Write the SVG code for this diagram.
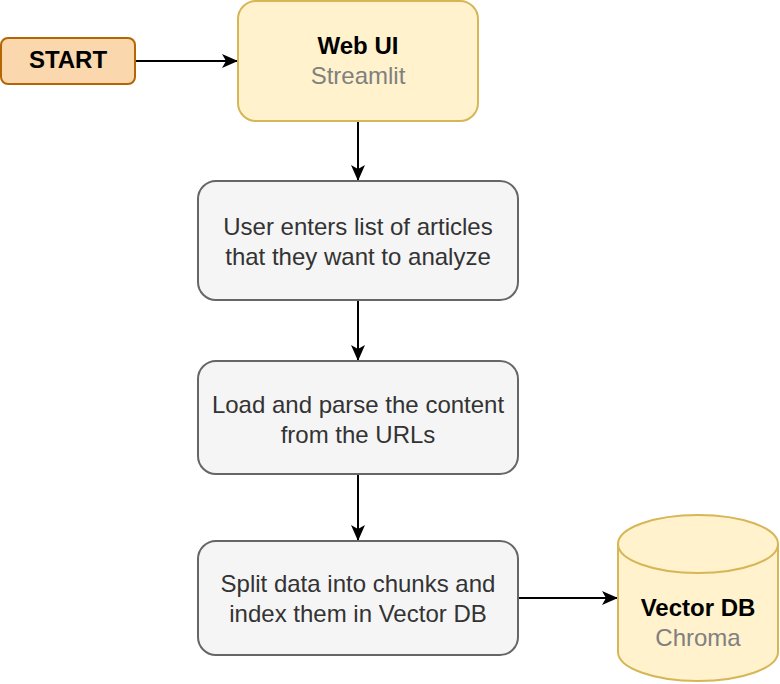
<svg xmlns="http://www.w3.org/2000/svg" width="780" height="684" viewBox="0 0 780 684">
<defs>
<style>
.t{font-family:"Liberation Sans",Arial,sans-serif;font-size:24px;text-anchor:middle}
.b{font-weight:bold;fill:#000}
.g{fill:#808080}
.d{fill:#333333}
.proc{fill:#f5f5f5;stroke:#666666;stroke-width:2}
.yel{fill:#fff2cc;stroke:#d6b656;stroke-width:2}
.edge{stroke:#000;stroke-width:2;fill:none}
</style>
<marker id="arr" markerWidth="16" markerHeight="14" viewBox="0 0 16 14" refX="15" refY="7" orient="auto" markerUnits="userSpaceOnUse">
<path d="M0,0 L16,7 L0,14 L4,7 Z" fill="#000"/>
</marker>
</defs>
<g id="connectors">
<line class="edge" x1="135" y1="61" x2="237" y2="61" marker-end="url(#arr)"/>
<line class="edge" x1="358" y1="121" x2="358" y2="180" marker-end="url(#arr)"/>
<line class="edge" x1="358" y1="300" x2="358" y2="360" marker-end="url(#arr)"/>
<line class="edge" x1="358" y1="474" x2="358" y2="540" marker-end="url(#arr)"/>
<line class="edge" x1="518" y1="598" x2="617" y2="598" marker-end="url(#arr)"/>
</g>
<g id="start">
<rect x="1" y="38" width="134" height="46" rx="7" fill="#fad7ac" stroke="#b46504" stroke-width="2"/>
<text class="t b" x="68" y="68">START</text>
</g>
<g id="webui">
<rect class="yel" x="238" y="1" width="240" height="120" rx="18"/>
<text class="t b" x="358" y="54">Web UI</text>
<text class="t g" x="358" y="84">Streamlit</text>
</g>
<g id="enter">
<rect class="proc" x="198" y="181" width="320" height="119" rx="18"/>
<text class="t d" x="358" y="235">User enters list of articles</text>
<text class="t d" x="358" y="265">that they want to analyze</text>
</g>
<g id="load">
<rect class="proc" x="198" y="361" width="320" height="113" rx="18"/>
<text class="t d" x="358" y="413">Load and parse the content</text>
<text class="t d" x="358" y="443">from the URLs</text>
</g>
<g id="split">
<rect class="proc" x="198" y="541" width="320" height="114" rx="18"/>
<text class="t d" x="358" y="592">Split data into chunks and</text>
<text class="t d" x="358" y="622">index them in Vector DB</text>
</g>
<g id="vectordb">
<path class="yel" d="M618,544 A80,29 0 0 1 778,544 L778,652 A80,29 0 0 1 618,652 Z"/>
<path d="M618,544 A80,29 0 0 0 778,544" fill="none" stroke="#d6b656" stroke-width="2"/>
<text class="t b" x="698" y="616">Vector DB</text>
<text class="t g" x="698" y="646">Chroma</text>
</g>
</svg>
